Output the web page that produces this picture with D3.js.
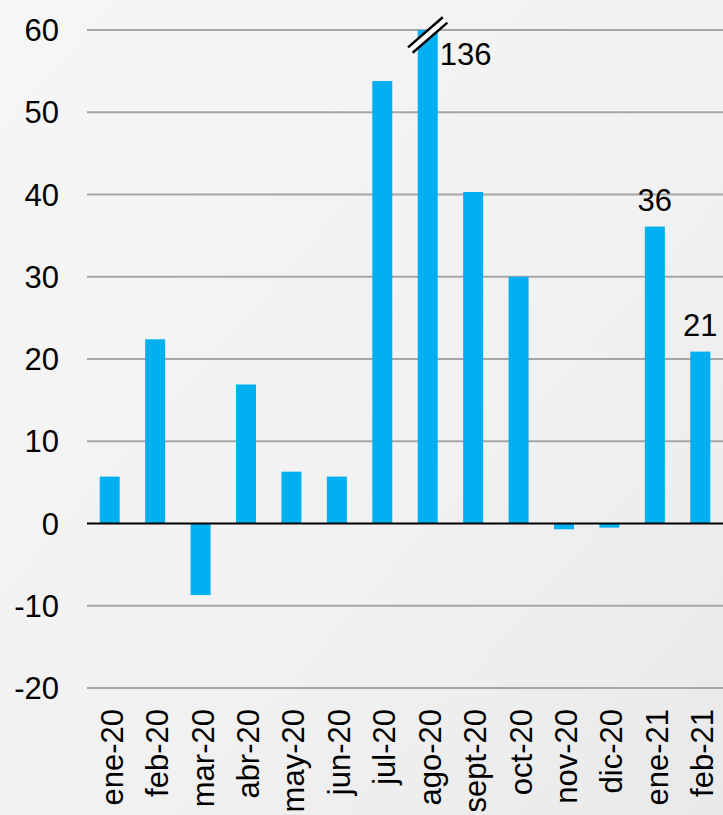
<!DOCTYPE html>
<html lang="es">
<head>
    <meta charset="UTF-8">
    <title>variación mensual</title>
    <style>
        html, body {
            margin: 0;
            padding: 0;
        }

        body {
            width: 723px;
            height: 815px;
            overflow: hidden;
            font-family: Arial, "Liberation Sans", sans-serif;
        }

        rect.bar {
            fill: #00b0f0;
        }

        line.grid {
            stroke: #a6a6a6;
            stroke-width: 2;
        }

        line.zero {
            stroke: #000;
            stroke-width: 2;
        }

        text {
            fill: #000;
            font-size: 31px;
        }
    </style>
</head>
<body>
<svg id="chart"></svg>

<script src="https://cdnjs.cloudflare.com/ajax/libs/d3/7.8.5/d3.min.js"></script>
<script>
    // data
    const months = ["ene-20", "feb-20", "mar-20", "abr-20", "may-20", "jun-20", "jul-20",
        "ago-20", "sept-20", "oct-20", "nov-20", "dic-20", "ene-21", "feb-21"];
    const values = [5.7, 22.4, -8.7, 16.9, 6.3, 5.7, 53.8, 136, 40.3, 30.0, -0.7, -0.5, 36.1, 20.9];
    const shownLabels = [null, null, null, null, null, null, null, "136", null, null, null, null, "36", "21"];
    const yTicks = [-20, -10, 0, 10, 20, 30, 40, 50, 60];

    const width = 723, height = 815;
    const plotLeft = 87, plotRight = 723, plotTop = 30, plotBottom = 688;

    const svg = d3.select("#chart").attr("width", width).attr("height", height);

    // background
    const defs = svg.append("defs");
    const bg = defs.append("linearGradient").attr("id", "bg")
        .attr("x1", "0").attr("y1", "0").attr("x2", "1").attr("y2", "1");
    bg.append("stop").attr("offset", "0").attr("stop-color", "#f6f6f6");
    bg.append("stop").attr("offset", "0.6").attr("stop-color", "#f1f1f1");
    bg.append("stop").attr("offset", "1").attr("stop-color", "#e9e9e9");
    svg.append("rect").attr("width", width).attr("height", height).attr("fill", "url(#bg)");

    const x = d3.scaleBand().domain(months).range([plotLeft, plotRight]).paddingInner(0.56).paddingOuter(0.28);
    const y = d3.scaleLinear().domain([-20, 60]).range([plotBottom, plotTop]).clamp(true);

    // gridlines
    svg.append("g").selectAll("line")
        .data(yTicks.filter(d => d !== 0))
        .enter().append("line")
        .attr("class", "grid")
        .attr("x1", plotLeft).attr("x2", plotRight)
        .attr("y1", d => y(d)).attr("y2", d => y(d));

    // y tick labels
    svg.append("g").selectAll("text")
        .data(yTicks)
        .enter().append("text")
        .attr("x", 59)
        .attr("y", d => y(d))
        .attr("dy", "0.36em")
        .attr("text-anchor", "end")
        .text(d => d);

    // bars
    svg.append("g").selectAll("rect")
        .data(months)
        .enter().append("rect")
        .attr("class", "bar")
        .attr("x", d => x(d))
        .attr("width", x.bandwidth())
        .attr("y", (d, i) => y(Math.max(0, values[i])))
        .attr("height", (d, i) => Math.abs(y(values[i]) - y(0)));

    // zero line
    svg.append("line")
        .attr("class", "zero")
        .attr("x1", plotLeft).attr("x2", plotRight)
        .attr("y1", y(0)).attr("y2", y(0));

    // axis break on the clipped bar
    const breakIdx = values.findIndex(v => v > 60);
    const bx = x(months[breakIdx]) + x.bandwidth() / 2, by = y(60) + 5;
    const brk = svg.append("g").attr("transform", `translate(${bx},${by}) rotate(-41)`);
    brk.append("rect").attr("x", -23).attr("y", -3.5).attr("width", 46).attr("height", 7).attr("fill", "#fff");
    [-3.5, 3.5].forEach(o => {
        brk.append("line").attr("x1", -23).attr("x2", 23).attr("y1", o).attr("y2", o)
            .attr("stroke", "#000").attr("stroke-width", 2.4);
    });

    // data labels
    svg.append("g").selectAll("text")
        .data(months.filter((d, i) => shownLabels[i] !== null))
        .enter().append("text")
        .attr("x", d => {
            const i = months.indexOf(d);
            return values[i] > 60 ? x(d) + x.bandwidth() + 2 : x(d) + x.bandwidth() / 2;
        })
        .attr("y", d => {
            const i = months.indexOf(d);
            return values[i] > 60 ? y(60) + 35 : y(values[i]) - 16;
        })
        .attr("text-anchor", d => values[months.indexOf(d)] > 60 ? "start" : "middle")
        .text(d => shownLabels[months.indexOf(d)]);

    // category labels
    svg.append("g").selectAll("text")
        .data(months)
        .enter().append("text")
        .attr("transform", d => `translate(${x(d) + x.bandwidth() / 2 + 13},709) rotate(-90)`)
        .attr("text-anchor", "end")
        .text(d => d);
</script>
</body>
</html>
